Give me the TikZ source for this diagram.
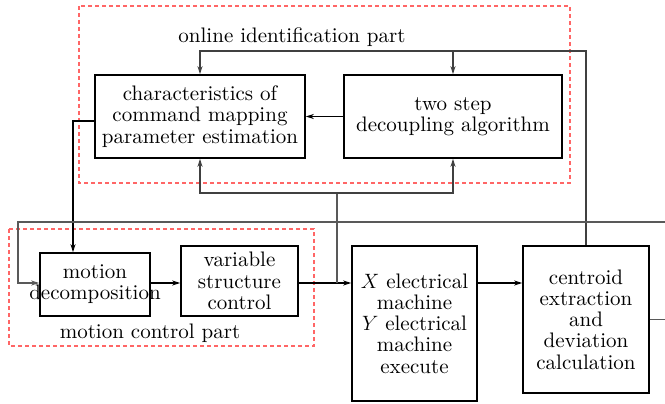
\documentclass[tikz,border=0pt]{standalone}
\usepackage{fontspec}
\setmainfont{lmroman10-regular}[Extension=.otf, BoldFont=lmroman10-bold, ItalicFont=lmroman10-italic]
\usetikzlibrary{arrows.meta}

\tikzset{
  block/.style={draw, line width=1.6pt, inner sep=0pt, align=center},
  txt/.style={align=center, inner sep=0pt},
  link/.style={line width=1.1pt, -{Stealth[length=8pt,width=5pt]}},
  fb/.style={draw=black!65, line width=1.1pt},
  part/.style={draw=red!60, dashed, line width=1.1pt, dash pattern=on 4pt off 3pt}
}

\begin{document}
\begin{tikzpicture}[x=1pt, y=-1pt, font=\fontsize{21}{21.2}\selectfont]
	\useasboundingbox (0,0) rectangle (665,404);
	% dashed frames
	\draw[part] (79,6) rectangle (570,183);
	\draw[part] (9,229) rectangle (314,346);
	\node[txt] (online) at (292,37) {online identification part};
	\node[txt] (mcpart) at (150,333) {motion control part};
	% blocks
	\node[block, minimum width=210, minimum height=83] (char) at (200,116.5) {characteristics of\\command mapping\\parameter estimation};
	\node[block, minimum width=218, minimum height=83] (two) at (453,116.5) {two step\\decoupling algorithm};
	\node[block, minimum width=110, minimum height=63] (motion) at (95,284.5) {};
	\node[txt] (motiontxt) at (95,284) {motion\\decomposition};
	\node[block, minimum width=117, minimum height=70] (var) at (239.5,281) {variable\\structure\\control};
	\node[block, minimum width=125, minimum height=155] (mach) at (414.5,323.5) {$X$ electrical\\machine\\$Y$ electrical\\machine\\execute};
	\node[block, minimum width=126, minimum height=147] (cen) at (586,319.5) {centroid\\extraction\\and\\deviation\\calculation};
	% helper points
	\coordinate (tr) at (586,51);
	\coordinate (ctl) at (337,283);
	\coordinate (up) at (337,193);
	\coordinate (fbR) at (665,222);
	\coordinate (fbL) at (18,222);
	\coordinate (outR) at (665,319.5);
	% connectors
	\draw[link] (two.west) -- (char.east);
	\draw[link, draw=black!75] (cen.north) -- (tr) -| (char.north);
	\draw[link, draw=black!75] (two.north |- tr) -- (two.north);
	\draw[link] ([yshift=-4.5pt]char.west) -| ([xshift=-22pt]motion.north);
	\draw[link] (motion.east |- ctl) -- (var.west |- ctl);
	\draw[link] (var.east |- ctl) -- (ctl) -- (ctl -| mach.west);
	\draw[link] (mach.east |- ctl) -- (cen.west |- ctl);
	\draw[fb] (ctl) -- (up);
	\draw[link, draw=black!75] (up) -| (char.south);
	\draw[link, draw=black!75] (up) -| (two.south);
	\draw[link, draw=black!65] (fbR) -- (fbL) |- (motion.west |- ctl);
	\draw[fb] (cen.east) -- (outR);
\end{tikzpicture}
\end{document}
